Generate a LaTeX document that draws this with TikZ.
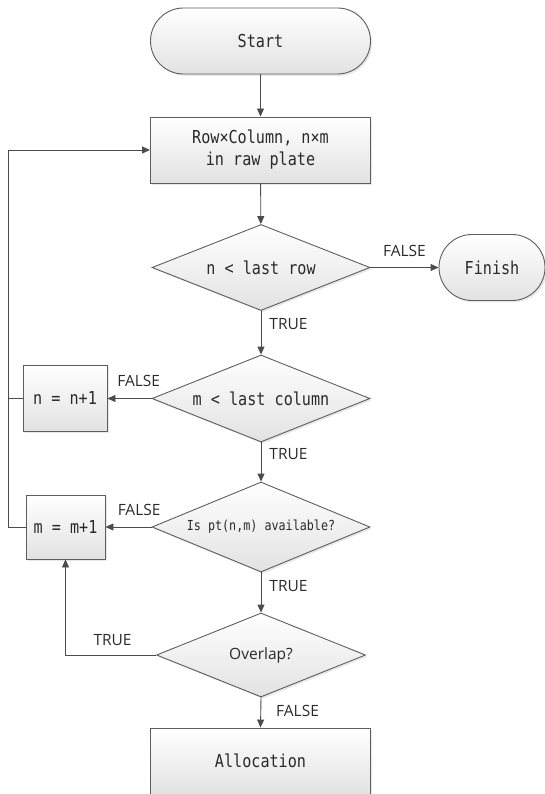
\documentclass[tikz,border=0pt]{standalone}
\usepackage{fontspec}
\newfontfamily\boxfont[FakeStretch=0.85]{DejaVu Sans Mono}
\newfontfamily\lblfont{Open Sans}
\usetikzlibrary{shapes.geometric}
\usetikzlibrary{arrows.meta}
\usetikzlibrary{shadows}
\definecolor{linegray}{HTML}{4C4C4C}
\definecolor{edgegray}{HTML}{5E5E5E}
\definecolor{txtgray}{HTML}{2A2A2A}
\definecolor{fillgray}{HTML}{E2E2E2}

\tikzset{
  shapebase/.style={draw=edgegray, line width=0.9pt, top color=white, bottom color=fillgray,
    text=txtgray, inner sep=0pt,
    drop shadow={shadow xshift=1.8pt, shadow yshift=-1.8pt, opacity=0.18}},
  monotext/.style={font=\boxfont\fontsize{17.8}{22}\selectfont},
  term/.style={shapebase, monotext, rectangle, rounded corners=33pt, minimum height=66pt},
  procbox/.style={shapebase, monotext, rectangle, minimum height=66pt, align=center},
  decision/.style={shapebase, monotext, diamond, aspect=2.5},
  conn/.style={draw=linegray, line width=0.9pt, -{Triangle[length=8pt,width=7pt]}},
  plainline/.style={draw=linegray, line width=0.9pt},
  lbl/.style={text=txtgray, font=\lblfont\fontsize{15.5}{18}\selectfont, inner sep=2pt}
}

\begin{document}
\begin{tikzpicture}[x=1pt, y=-1pt]
  \useasboundingbox (0,0) rectangle (545,794);
  \coordinate (back) at (8.5,0);
  \node[term, minimum width=220pt] (start) at (260.5,41) {Start};
  \node[procbox, minimum width=220pt] (plate) at (260.5,150) {Row×Column, n×m\\in raw plate};
  \node[decision, minimum width=218pt, minimum height=86pt] (lastrow) at (261,267.5) {n < last row};
  \node[term, minimum width=106pt] (finish) at (492,267.5) {Finish};
  \node[decision, minimum width=218pt, minimum height=87pt] (lastcol) at (261,398.5) {m < last column};
  \node[procbox, minimum width=84pt] (incn) at (65,398.5) {n = n+1};
  \node[decision, minimum width=218pt, minimum height=90pt,
        font=\boxfont\fontsize{13.8}{16}\selectfont] (avail) at (261,527) {Is pt(n,m) available?};
  \node[procbox, minimum width=79pt, minimum height=64pt] (incm) at (65.5,527) {m = m+1};
  \node[decision, minimum width=209pt, minimum height=84pt,
        font=\lblfont\fontsize{15.5}{18}\selectfont] (overlap) at (261,655) {Overlap?};
  \node[procbox, minimum width=220pt] (alloc) at (260.5,761) {Allocation};

  \draw[conn] (start) -- (plate);
  \draw[conn] (plate) -- (lastrow);
  \draw[conn] (lastrow.east) -- node[lbl, above=8pt] {FALSE} (finish.west);
  \draw[conn] (lastrow.south) -- node[lbl, right=6pt, pos=0.3] {TRUE} (lastcol.north);
  \draw[conn] (lastcol.west) -- node[lbl, above=9pt, pos=0.29] {FALSE} (incn.east);
  \draw[conn] (lastcol.south) -- node[lbl, right=6pt, pos=0.3] {TRUE} (avail.north);
  \draw[conn] (avail.west) -- node[lbl, above=9pt, pos=0.27] {FALSE} (incm.east);
  \draw[conn] (avail.south) -- node[lbl, right=6pt, pos=0.34] {TRUE} (overlap.north);
  \draw[conn] (overlap.west) -| node[lbl, above=7pt, pos=0.24] {TRUE} (incm.south);
  \draw[conn] (overlap.south) -- node[lbl, right=13pt, pos=0.45] {FALSE} (alloc.north);
  \draw[plainline] (incn.west) -- (incn.west -| back);
  \draw[conn] (incm.west) -| (back |- plate.west) -- (plate.west);
\end{tikzpicture}
\end{document}
